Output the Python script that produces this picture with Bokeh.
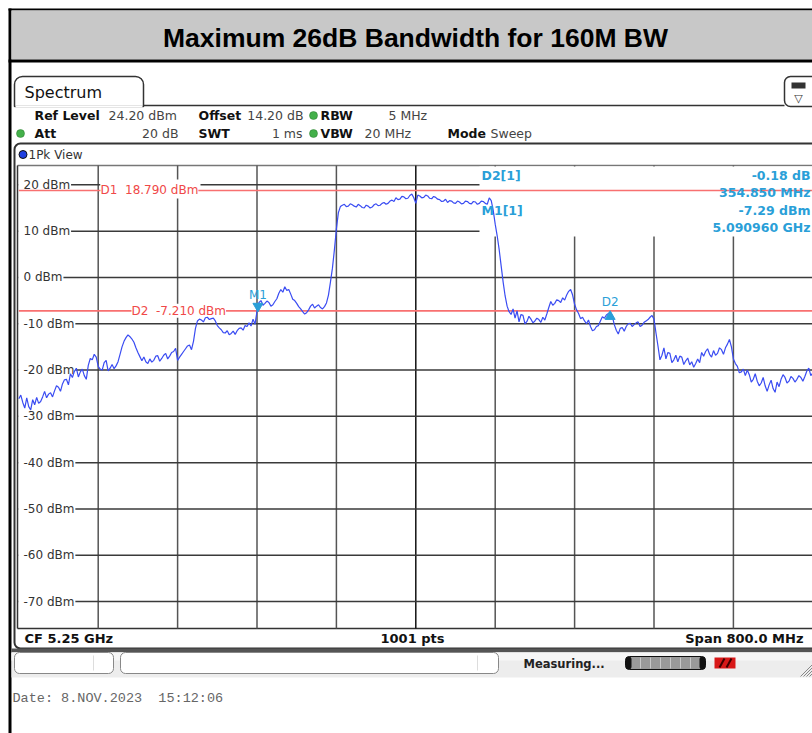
import numpy as np
from bokeh.plotting import figure
from bokeh.models import Range1d
from bokeh.embed import file_html
from bokeh.resources import INLINE
from bokeh.core.properties import value

# ---------------- data ----------------
TITLE = "Maximum 26dB Bandwidth for 160M BW"
CENTER_MHZ = 5250.0
SPAN_MHZ = 800.0
REF_LEVEL = 24.2
N_PTS = 1001
Y_TICKS = [20, 10, 0, -10, -20, -30, -40, -50, -60, -70]
Y_TICK_LABELS = ["20 dBm", "10 dBm", "0 dBm", "-10 dBm", "-20 dBm", "-30 dBm",
                 "-40 dBm", "-50 dBm", "-60 dBm", "-70 dBm"]
D1_LEVEL = 18.79
D2_LEVEL = -7.21
M1_FREQ = 5090.96
M1_LEVEL = -7.29
D2_DF = 354.85
D2_DL = -0.18
INFO_ROW1 = [("Ref Level", True), ("24.20 dBm", False), ("Offset", True), ("14.20 dB", False),
             ("RBW", True), ("5 MHz", False)]
INFO_ROW2 = [("Att", True), ("20 dB", False), ("SWT", True), ("1 ms", False),
             ("VBW", True), ("20 MHz", False), ("Mode", True), ("Sweep", False)]
DATE_TEXT = "Date: 8.NOV.2023\u00a0\u00a015:12:06"

# trace, every 2 MHz from 4850 MHz to 5650 MHz (dBm)
TRACE_DBM = [
    -26.2, -25.4, -27.0, -28.2, -26.0, -27.9, -28.6, -26.4, -27.5, -25.9,
    -27.2, -26.8, -25.8, -24.6, -26.0, -25.2, -24.9, -25.8, -24.5, -23.4,
    -23.7, -24.6, -23.0, -22.1, -22.0, -23.2, -20.8, -21.6, -20.3, -19.6,
    -21.5, -20.4, -19.8, -21.2, -22.0, -19.0, -17.5, -17.8, -16.6, -17.2,
    -19.2, -19.8, -20.0, -18.4, -17.9, -20.2, -19.6, -18.8, -19.7, -19.1,
    -18.2, -16.6, -15.0, -13.8, -13.0, -12.4, -12.8, -13.3, -14.0, -15.2,
    -16.2, -17.1, -18.0, -17.2, -18.2, -18.6, -17.6, -18.3, -17.9, -17.0,
    -16.9, -18.1, -17.5, -16.8, -16.4, -17.6, -17.0, -16.2, -16.0, -15.3,
    -17.9, -17.2, -16.6, -16.0, -15.4, -14.8, -14.6, -15.6, -13.8, -11.0,
    -9.4, -9.0, -9.2, -9.6, -8.7, -8.6, -9.1, -8.9, -8.8, -9.4,
    -10.4, -10.9, -11.3, -11.9, -12.0, -11.5, -12.4, -12.1, -11.6, -12.3,
    -11.5, -11.0, -10.9, -11.4, -10.4, -10.6, -9.8, -10.5, -9.0, -10.1,
    -7.3, -5.4, -5.0, -6.0, -5.6, -5.1, -5.4, -6.2, -5.9, -5.2,
    -4.6, -3.4, -2.6, -3.2, -2.0, -2.8, -2.6, -3.6, -4.7, -5.0,
    -5.6, -6.3, -6.8, -7.4, -7.9, -7.6, -7.0, -6.2, -5.8, -6.6,
    -6.2, -5.9, -6.5, -6.8, -6.3, -5.5, -3.8, -1.0, 2.0, 6.0,
    10.5, 14.0, 15.3, 15.6, 15.8, 15.3, 15.4, 15.9, 15.7, 15.4,
    15.2, 15.8, 15.5, 15.1, 15.0, 15.6, 15.4, 15.0, 15.2, 15.7,
    15.9, 15.5, 15.6, 16.0, 16.2, 15.8, 16.0, 16.5, 16.7, 16.4,
    17.2, 16.8, 16.9, 17.5, 17.4, 17.0, 17.1, 17.7, 18.0, 17.2,
    16.0, 17.8, 17.6, 17.2, 17.3, 17.8, 17.6, 17.1, 17.0, 17.5,
    17.3, 16.9, 16.8, 16.4, 16.5, 16.9, 16.2, 16.6, 16.5, 16.1,
    16.0, 16.5, 16.3, 15.9, 16.0, 16.5, 16.4, 16.0, 15.9, 16.4,
    16.3, 15.8, 16.0, 16.5, 16.4, 16.0, 15.8, 17.2, 16.6, 14.5,
    11.5, 9.0, 6.0, 2.5, -1.0, -4.0, -6.2, -7.4, -8.0, -6.8,
    -8.8, -7.2, -9.6, -8.0, -8.2, -10.0, -9.5, -8.4, -9.0, -9.8,
    -9.4, -8.8, -9.1, -9.7, -8.6, -9.2, -7.9, -6.5, -5.2, -6.0,
    -5.6, -4.8, -5.0, -5.4, -4.4, -4.9, -3.8, -3.0, -2.6, -3.8,
    -5.8, -7.0, -7.8, -8.9, -8.6, -9.4, -10.0, -9.2, -10.6, -11.5,
    -11.3, -10.6, -10.4, -9.4, -8.5, -8.8, -8.1, -7.8, -7.5, -8.4,
    -10.2, -11.4, -12.2, -11.0, -10.8, -11.6, -10.6, -10.0, -9.9, -10.6,
    -10.2, -9.8, -9.6, -10.6, -10.3, -9.7, -9.4, -9.1, -8.6, -8.2,
    -9.0, -12.0, -14.8, -17.8, -16.8, -15.2, -17.6, -16.2, -16.4, -18.4,
    -17.8, -16.8, -18.2, -17.0, -17.2, -18.8, -18.0, -17.4, -18.9, -18.2,
    -19.4, -18.6, -17.6, -18.4, -16.2, -17.0, -16.0, -15.4, -16.6, -17.2,
    -15.8, -16.8, -16.4, -15.2, -15.6, -16.6, -15.2, -14.4, -13.4, -15.0,
    -17.6, -18.6, -19.2, -20.6, -20.4, -19.8, -21.2, -20.0, -21.0, -22.6,
    -22.0, -20.8, -22.4, -23.4, -22.8, -21.6, -23.4, -24.6, -23.2, -22.2,
    -24.0, -24.8, -22.6, -23.6, -22.0, -21.0, -21.6, -22.8, -22.4, -21.4,
    -21.8, -22.6, -22.0, -21.2, -21.6, -22.4, -21.4, -20.2, -19.6, -21.2,
    -20.6,
]

# ---------------- geometry (picture pixels) ----------------
W, H = 812, 733
PX0, PX1 = 18.3, 812.3        # left/right edge of the trace area
PY_TOP, PY_BOT = 164.9, 627.9  # top (ref level) / bottom of the trace area
F_START = CENTER_MHZ - SPAN_MHZ / 2
F_STOP = CENTER_MHZ + SPAN_MHZ / 2
DB_RANGE = 100.0
mhz_per_px = SPAN_MHZ / (PX1 - PX0)
db_per_px = DB_RANGE / (PY_BOT - PY_TOP)

p = figure(width=W, height=H, output_backend="svg", toolbar_location=None,
           x_axis_type=None, y_axis_type=None, min_border=0,
           x_range=Range1d(0, W), y_range=Range1d(H, 0))
p.outline_line_color = None
p.background_fill_color = "white"
p.border_fill_color = "white"
p.grid.visible = False
p.extra_x_ranges = {"f": Range1d(F_START + (0 - PX0) * mhz_per_px,
                                 F_START + (W - PX0) * mhz_per_px)}
p.extra_y_ranges = {"d": Range1d(REF_LEVEL - (H - PY_TOP) * db_per_px,
                                 REF_LEVEL - (0 - PY_TOP) * db_per_px)}


def txt(x, y, s, size=12, color="#333333", bold=False, align="left", font="DejaVu Sans",
        xr="default", yr="default", bg=None, baseline="middle"):
    kw = {}
    if bg is not None:
        kw["background_fill_color"] = bg
    p.text(x=[x], y=[y], text=[s], text_font=value(font), text_font_size=f"{size}px",
           text_color=color, text_font_style="bold" if bold else "normal",
           text_align=align, text_baseline=baseline,
           x_range_name=xr, y_range_name=yr, **kw)


def box(l, r, t, b, fill="white", line=None, lw=1, radius=0, yr="default"):
    kw = {}
    if radius:
        kw["border_radius"] = radius
    p.quad(left=[l], right=[r], top=[t], bottom=[b], fill_color=fill,
           line_color=line, line_width=lw, y_range_name=yr, **kw)


CHAR_W = {"-": 4.3, " ": 3.8, "d": 7.6, "B": 8.2, "m": 11.7}


def label_width(s, size=12):
    return sum(CHAR_W.get(c, 7.63) for c in s) * size / 12.0


# ---------------- page frame & title ----------------
box(8, 11, 8, 733, fill="black")
box(8, 812, 8, 10, fill="black")
box(11, 812, 10, 59, fill="#c8c8c8")
box(8, 812, 59, 62, fill="black")
txt(415, 37, TITLE, size=26.5, color="black", bold=True, align="center", font="Liberation Sans")

# ---------------- Spectrum tab ----------------
p.segment(x0=[143], y0=[105], x1=[784], y1=[105], line_color="#333333", line_width=1.5)
box(14, 143, 76, 106, fill="white", line="#333333", lw=1.5, radius=(8, 8, 0, 0))
p.segment(x0=[15], y0=[106], x1=[142], y1=[106], line_color="white", line_width=2)
txt(24, 92, "Spectrum", size=16, color="#111111")
box(784, 818, 76, 106, fill="white", line="#333333", lw=1.5, radius=6)
box(791, 805, 82, 88, fill="#333333")
txt(798, 98, "\u25bd", size=11, color="#333333", align="center")

# info rows
row1_x = [34, 108, 198, 303, 320, 388]
row1_al = ["left", "left", "left", "right", "left", "left"]
for (s, b), x, al in zip(INFO_ROW1, row1_x, row1_al):
    txt(x, 115, s, size=12.5, color="#111111" if b else "#444444", bold=b, align=al)
row2_x = [34, 178, 198, 302, 320, 364, 447, 490]
row2_al = ["left", "right", "left", "right", "left", "left", "left", "left"]
for (s, b), x, al in zip(INFO_ROW2, row2_x, row2_al):
    txt(x, 133, s, size=12.5, color="#111111" if b else "#444444", bold=b, align=al)
p.scatter(x=[20, 313, 313], y=[133, 115, 133], size=8, fill_color="#44b04a",
          line_color="#2e7d32", line_width=0.5)

# ---------------- diagram frame ----------------
box(14, 820, 143, 648, fill="white", line="#333333", lw=2, radius=6)
p.scatter(x=[22.5], y=[154], size=8, fill_color="#2040e0", line_color="#111111", line_width=1)
txt(28, 154, "1Pk View", size=12, color="#333333")
p.segment(x0=[17], y0=[165], x1=[812], y1=[165], line_color="#777777", line_width=1.5)
p.segment(x0=[17], y0=[628], x1=[812], y1=[628], line_color="#333333", line_width=1.5)

# ---------------- grid ----------------
db_bottom = REF_LEVEL - DB_RANGE
vx = [F_START + k * SPAN_MHZ / 10 for k in range(1, 10)]
vcol = ["#111111" if abs(v - CENTER_MHZ) < 1 else "#555555" for v in vx]
p.segment(x0=vx, y0=[db_bottom] * 9, x1=vx, y1=[REF_LEVEL] * 9, line_color=vcol,
          line_width=1.5, x_range_name="f", y_range_name="d")
p.segment(x0=[F_START] * len(Y_TICKS), y0=Y_TICKS, x1=[F_STOP] * len(Y_TICKS), y1=Y_TICKS,
          line_color="#3a3a3a", line_width=1.5, x_range_name="f", y_range_name="d")

# marker readout box blanks the grid
box(479, 812, 166, 236, fill="white")
# the D1 label box blanks the grid behind it
box(100, 200, D1_LEVEL + 11 * db_per_px, D1_LEVEL - 8 * db_per_px, yr="d")

# y tick labels on white
for t, s in zip(Y_TICKS, Y_TICK_LABELS):
    box(18.5, 23 + label_width(s) + 1, t + 7 * db_per_px, t - 7 * db_per_px, yr="d")
    txt(23, t, s, size=12, color="#333333", yr="d")
p.segment(x0=[17], y0=[165], x1=[17], y1=[628], line_color="#333333", line_width=1.5)

# ---------------- display lines ----------------
p.segment(x0=[F_START, F_START], y0=[D1_LEVEL, D2_LEVEL], x1=[F_STOP, F_STOP],
          y1=[D1_LEVEL, D2_LEVEL], line_color="#f87070", line_width=1.6,
          x_range_name="f", y_range_name="d")
txt(100, D1_LEVEL, f"D1\u00a0\u00a0{D1_LEVEL:.3f} dBm", size=12, color="#f04848", yr="d", bg="white")
txt(131, D2_LEVEL, f"D2\u00a0\u00a0{D2_LEVEL:.3f} dBm", size=12, color="#f04848", yr="d", bg="white")

# ---------------- trace ----------------
trace_f = np.linspace(F_START, F_STOP, len(TRACE_DBM))
p.line(x=trace_f, y=TRACE_DBM, line_color="#3a4cf2", line_width=1.2,
       x_range_name="f", y_range_name="d")

# ---------------- markers ----------------
MK = "#2a9fd8"
d2_freq = M1_FREQ + D2_DF
d2_lvl = M1_LEVEL + D2_DL
p.scatter(x=[M1_FREQ], y=[M1_LEVEL + 5 * db_per_px], marker="inverted_triangle", size=10,
          fill_color=MK, line_color=MK, x_range_name="f", y_range_name="d")
p.scatter(x=[d2_freq], y=[d2_lvl - 4.5 * db_per_px], marker="triangle", size=10,
          fill_color=MK, line_color=MK, x_range_name="f", y_range_name="d")
txt(M1_FREQ, M1_LEVEL + 16 * db_per_px, "M1", size=12, color=MK, align="center",
    xr="f", yr="d")
txt(d2_freq, d2_lvl + 10 * db_per_px, "D2", size=12, color=MK, align="center",
    xr="f", yr="d")

# readouts
txt(481, 175, "D2[1]", size=12.5, color=MK, bold=True)
txt(481, 210, "M1[1]", size=12.5, color=MK, bold=True)
txt(810, 175, f"{D2_DL:.2f} dB", size=12.5, color=MK, bold=True, align="right")
txt(810, 192, f"{D2_DF:.3f} MHz", size=12.5, color=MK, bold=True, align="right")
txt(810, 210, f"{M1_LEVEL:.2f} dBm", size=12.5, color=MK, bold=True, align="right")
txt(810, 227, f"{M1_FREQ / 1000:.6f} GHz", size=12.5, color=MK, bold=True, align="right")

# ---------------- bottom info row ----------------
txt(24, 638, f"CF {CENTER_MHZ / 1000:g} GHz", size=13, color="#111111", bold=True)
txt(412, 638, f"{N_PTS} pts", size=13, color="#111111", bold=True, align="center")
txt(803, 638, f"Span {SPAN_MHZ:.1f} MHz", size=13, color="#111111", bold=True, align="right")

# ---------------- status bar ----------------
box(11, 812, 648, 652, fill="#555555")
box(11, 812, 652, 677, fill="#ededed")
box(11, 812, 652, 660, fill="#f7f7f7")
box(14, 113, 652, 673, fill="white", line="#888888", lw=1, radius=5)
p.segment(x0=[93], y0=[655], x1=[93], y1=[670], line_color="#dddddd")
box(120, 498, 652, 673, fill="white", line="#888888", lw=1, radius=5)
p.segment(x0=[477], y0=[655], x1=[477], y1=[670], line_color="#dddddd")
txt(523, 663, "Measuring...", size=11.5, color="#222222", bold=True)
box(625, 705, 656, 669, fill="#9a9a9a", line="#111111", lw=1, radius=4)
box(625, 631, 656, 669, fill="#111111", radius=3)
box(699, 705, 656, 669, fill="#111111", radius=3)
for xs in [640, 650, 660, 670, 680, 690]:
    p.segment(x0=[xs], y0=[657], x1=[xs], y1=[668], line_color="#c8c8c8")
box(714, 735, 657, 668, fill="#d81818")
p.segment(x0=[719, 726], y0=[667, 667], x1=[724, 731], y1=[658, 658], line_color="#400000", line_width=2)
for d in range(4):
    p.segment(x0=[800 + 3 * d], y0=[676], x1=[812], y1=[664 + 3 * d], line_color="#888888")

# ---------------- date ----------------
txt(12, 698, DATE_TEXT, size=13.5, color="#666666", font="Liberation Mono")

open("out.html", "w").write(file_html(p, INLINE))
